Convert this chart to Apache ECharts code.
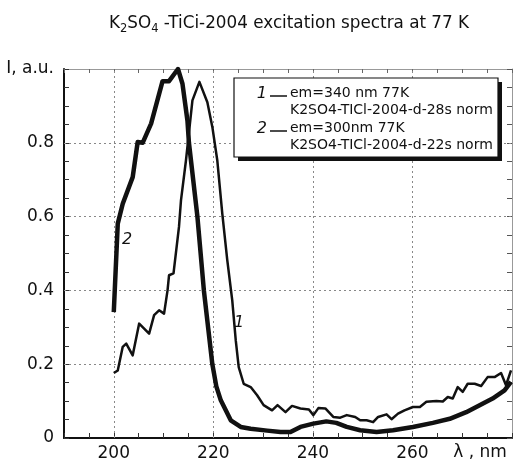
<!DOCTYPE html>
<html>
<head>
<meta charset="utf-8">
<script src="https://cdn.jsdelivr.net/npm/echarts@6/dist/echarts.min.js"></script>
<style>
  html, body { margin: 0; padding: 0; background: #fff; }
  #main { width: 515px; height: 464px; }
</style>
</head>
<body>
<div id="main"></div>
<script>
// curve 1: em=340 nm (thin line)
const x1 = [200, 200.8, 201.8, 202.5, 203.8, 205.1, 207.1, 208.1, 209.1, 210.1, 210.8, 211.1, 212, 213.1, 213.5,
  214.5, 215.8, 217.2, 218.8, 219.8, 220.8, 221.8, 222.8, 223.8, 224.5, 225.1, 226.1, 227.5, 228.8, 230.1,
  231.8, 232.9, 234.5, 235.8, 237.5, 239.2, 240.1, 241.1, 242.5, 244.1, 245.5, 246.8, 248.5, 249.5, 250.8,
  252.1, 253.1, 254.8, 255.8, 257.1, 258.4, 260.1, 261.5, 262.8, 264.8, 266.1, 267.1, 268.1, 269.1, 270.1,
  271.1, 272.5, 273.8, 275.1, 276.5, 277.8, 278.8, 279.8];
const y1 = [0.176, 0.183, 0.247, 0.256, 0.224, 0.31, 0.283, 0.333, 0.346, 0.337, 0.40, 0.441, 0.446, 0.572, 0.644,
  0.752, 0.915, 0.965, 0.91, 0.843, 0.752, 0.608, 0.482, 0.373, 0.265, 0.192, 0.147, 0.138, 0.116, 0.089,
  0.075, 0.089, 0.07, 0.087, 0.08, 0.077, 0.062, 0.081, 0.08, 0.057, 0.055, 0.062, 0.057, 0.048, 0.048,
  0.043, 0.057, 0.064, 0.051, 0.066, 0.075, 0.084, 0.084, 0.098, 0.1, 0.099, 0.111, 0.107, 0.138, 0.125,
  0.147, 0.147, 0.141, 0.165, 0.165, 0.176, 0.143, 0.183];

// curve 2: em=300 nm (thick line)
const x2 = [200, 200.8, 201.8, 203.8, 204.8, 205.8, 207.5, 209.8, 211.1, 212.9, 213.8, 214.8, 215.1, 216.8,
  218.1, 219.8, 220.6, 221.5, 223.5, 225.5, 227.5, 230.8, 233.5, 235.5, 237.5, 240.1, 242.7, 244.7, 246.8,
  249.5, 252.8, 256.1, 260.1, 264.1, 267.5, 270.8, 273.5, 276.1, 278.5, 279.8];
const y2 = [0.341, 0.581, 0.635, 0.707, 0.802, 0.80, 0.852, 0.967, 0.967, 1.0, 0.96, 0.86, 0.8, 0.6,
  0.4, 0.2, 0.14, 0.102, 0.048, 0.03, 0.025, 0.02, 0.016, 0.016, 0.03, 0.039, 0.045, 0.041, 0.03,
  0.021, 0.016, 0.021, 0.03, 0.041, 0.052, 0.07, 0.089, 0.107, 0.129, 0.152];

const xLabels = [200, 220, 240, 260];
const yLabels = [0, 0.2, 0.4, 0.6, 0.8];
const gridX = [200, 220, 240, 260];
const gridY = [0.2, 0.4, 0.6, 0.8];

const FONT = "DejaVu Sans";
const INK = "#111";

function zip(xs, ys) {
  return xs.map(function (x, i) { return [x, ys[i]]; });
}
function onList(list, v) {
  return list.some(function (l) { return Math.abs(l - v) < 1e-6; });
}

const options = {
  animation: false,
  backgroundColor: "#fff",
  title: {
    text: "{a|K}{b|2}{a|SO}{b|4}{a| -TiCi-2004 excitation spectra at 77 K}",
    left: 104,
    top: 7,
    textStyle: {
      fontWeight: "normal",
      rich: {
        a: { fontFamily: FONT, fontSize: 16.8, fontWeight: "normal", color: INK, lineHeight: 23 },
        b: { fontFamily: FONT, fontSize: 11.5, fontWeight: "normal", color: INK, lineHeight: 23, verticalAlign: "bottom" }
      }
    }
  },
  grid: { left: 64, top: 69, width: 448, height: 369 },
  xAxis: [
    {
      type: "value", position: "bottom", min: 190, max: 280, interval: 5,
      axisLine: { lineStyle: { color: INK, width: 2 } },
      axisTick: { inside: true, length: 5, lineStyle: { color: "#333" } },
      axisLabel: {
        margin: 7, fontFamily: FONT, fontSize: 17, color: INK,
        showMinLabel: true, showMaxLabel: true,
        formatter: function (v) { return onList(xLabels, v) ? String(v) : ""; }
      },
      splitLine: { show: false }
    },
    {
      type: "value", position: "top", min: 190, max: 280, interval: 5,
      axisLine: { onZero: false, lineStyle: { color: "#999", width: 1 } },
      axisTick: { inside: true, length: 4, lineStyle: { color: "#666" } },
      axisLabel: { show: false },
      splitLine: { show: false }
    }
  ],
  yAxis: [
    {
      type: "value", position: "left", min: 0, max: 1, interval: 0.05,
      axisLine: { onZero: false, lineStyle: { color: INK, width: 2 } },
      axisTick: { inside: true, length: 5, lineStyle: { color: "#333" } },
      axisLabel: {
        margin: 10, fontFamily: FONT, fontSize: 17, color: INK,
        showMinLabel: true, showMaxLabel: true,
        formatter: function (v) {
          if (Math.abs(v - 1) < 1e-6) return "I, a.u.";
          return onList(yLabels, v) ? String(Math.round(v * 10) / 10) : "";
        }
      },
      splitLine: { show: false }
    },
    {
      type: "value", position: "right", min: 0, max: 1, interval: 0.05,
      axisLine: { onZero: false, lineStyle: { color: "#999", width: 1 } },
      axisTick: { inside: true, length: 5, lineStyle: { color: "#555" } },
      axisLabel: { show: false },
      splitLine: { show: false }
    }
  ],
  series: [
    {
      name: "grid",
      type: "line",
      data: [],
      markLine: {
        silent: true,
        z: 1,
        symbol: "none",
        label: { show: false },
        lineStyle: { color: "#888", width: 1, type: [2, 3] },
        data: gridX.map(function (v) { return { xAxis: v }; })
          .concat(gridY.map(function (v) { return { yAxis: v }; }))
      }
    },
    {
      name: "em=340 nm 77K",
      type: "line",
      showSymbol: false,
      data: zip(x1, y1),
      lineStyle: { color: INK, width: 2.5, join: "round" },
      z: 3
    },
    {
      name: "em=300nm 77K",
      type: "line",
      showSymbol: false,
      data: zip(x2, y2),
      lineStyle: { color: INK, width: 4.5, join: "round" },
      z: 3
    }
  ],
  graphic: [
    { type: "rect", shape: { x: 238, y: 82, width: 264, height: 79 }, style: { fill: INK }, z: 10 },
    { type: "rect", shape: { x: 234, y: 78, width: 264, height: 79 }, style: { fill: "#fff", stroke: INK, lineWidth: 1.2 }, z: 11 },
    { type: "text", x: 267, y: 94, style: { text: "1", fontFamily: FONT, fontSize: 16, fontStyle: "italic", fill: INK, align: "right", verticalAlign: "middle" }, z: 12 },
    { type: "line", shape: { x1: 270, y1: 96, x2: 287, y2: 96 }, style: { stroke: INK, lineWidth: 1.5 }, z: 12 },
    { type: "text", x: 290, y: 93, style: { text: "em=340 nm 77K", fontFamily: FONT, fontSize: 14, fill: INK, verticalAlign: "middle" }, z: 12 },
    { type: "text", x: 290, y: 110.5, style: { text: "K2SO4-TICl-2004-d-28s norm", fontFamily: FONT, fontSize: 14, fill: INK, verticalAlign: "middle" }, z: 12 },
    { type: "text", x: 267, y: 129, style: { text: "2", fontFamily: FONT, fontSize: 16, fontStyle: "italic", fill: INK, align: "right", verticalAlign: "middle" }, z: 12 },
    { type: "line", shape: { x1: 270, y1: 131, x2: 287, y2: 131 }, style: { stroke: INK, lineWidth: 1.5 }, z: 12 },
    { type: "text", x: 290, y: 128, style: { text: "em=300nm 77K", fontFamily: FONT, fontSize: 14, fill: INK, verticalAlign: "middle" }, z: 12 },
    { type: "text", x: 290, y: 145.5, style: { text: "K2SO4-TICl-2004-d-22s norm", fontFamily: FONT, fontSize: 14, fill: INK, verticalAlign: "middle" }, z: 12 },
    { type: "text", x: 127, y: 240, style: { text: "2", fontFamily: FONT, fontSize: 16, fontStyle: "italic", fill: INK, align: "center", verticalAlign: "middle" }, z: 12 },
    { type: "text", x: 239, y: 323, style: { text: "1", fontFamily: FONT, fontSize: 16, fontStyle: "italic", fill: INK, align: "center", verticalAlign: "middle" }, z: 12 },
    { type: "text", x: 480, y: 453, style: { text: "\u03bb , nm", fontFamily: FONT, fontSize: 17, fill: INK, align: "center", verticalAlign: "middle" }, z: 12 }
  ]
};

function initChart(opts) {
  var chart = echarts.init(document.getElementById("main"));
  chart.setOption(opts);
  return chart;
}
var myChart = initChart(options);
</script>
</body>
</html>
